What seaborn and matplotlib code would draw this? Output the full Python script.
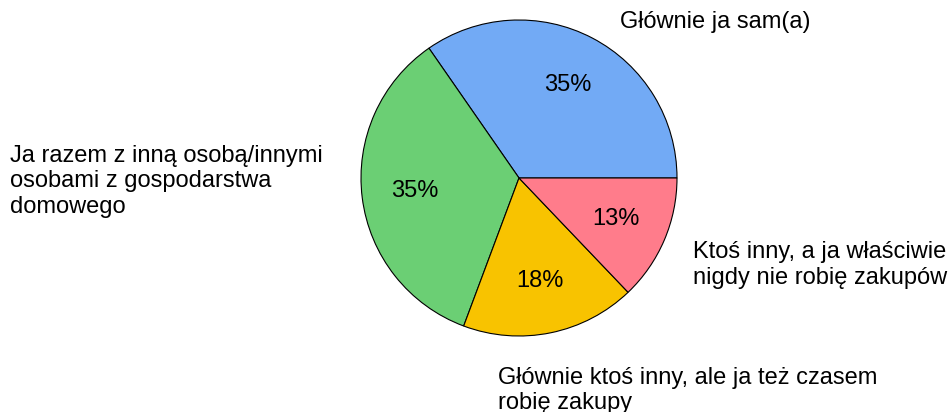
import matplotlib
matplotlib.use("Agg")
import matplotlib.pyplot as plt
import seaborn as sns

# DATA
categories = [
    "Głównie ja sam(a)",
    "Ja razem z inną osobą/innymi\nosobami z gospodarstwa\ndomowego",
    "Głównie ktoś inny, ale ja też czasem\nrobię zakupy",
    "Ktoś inny, a ja właściwie\nnigdy nie robię zakupów",
]
shares = [35, 35, 18, 13]
colors = ["#72aaf5", "#6bcf74", "#f8c300", "#ff7c8b"]

sns.set_style("white")
plt.rcParams["font.family"] = ["Liberation Sans", "DejaVu Sans"]

fig = plt.figure(figsize=(9.48, 4.12), dpi=100)
# pie centre at (519,178) px, radius 158 px
ax = fig.add_axes([(519 - 158) / 948, (412 - 178 - 158) / 412, 316 / 948, 316 / 412])

wedges, texts, autotexts = ax.pie(
    shares,
    labels=categories,
    colors=colors,
    startangle=0,
    counterclock=True,
    autopct="%1.0f%%",
    pctdistance=0.665,
    wedgeprops={"edgecolor": "black", "linewidth": 0.8},
    textprops={"fontsize": 17, "color": "black"},
)
ax.set_xlim(-1, 1)
ax.set_ylim(-1, 1)

# label placement (data units, radius = 1)
label_pos = [(0.64, 0.99), (-3.22, -0.02), (-0.13, -1.345), (1.10, -0.55)]
for t, (x, y) in zip(texts, label_pos):
    t.set_position((x, y))
    t.set_ha("left")
    t.set_va("center")
    t.set_clip_on(False)
    t.set_linespacing(1.2)

fig.savefig("out.png", dpi=100)
